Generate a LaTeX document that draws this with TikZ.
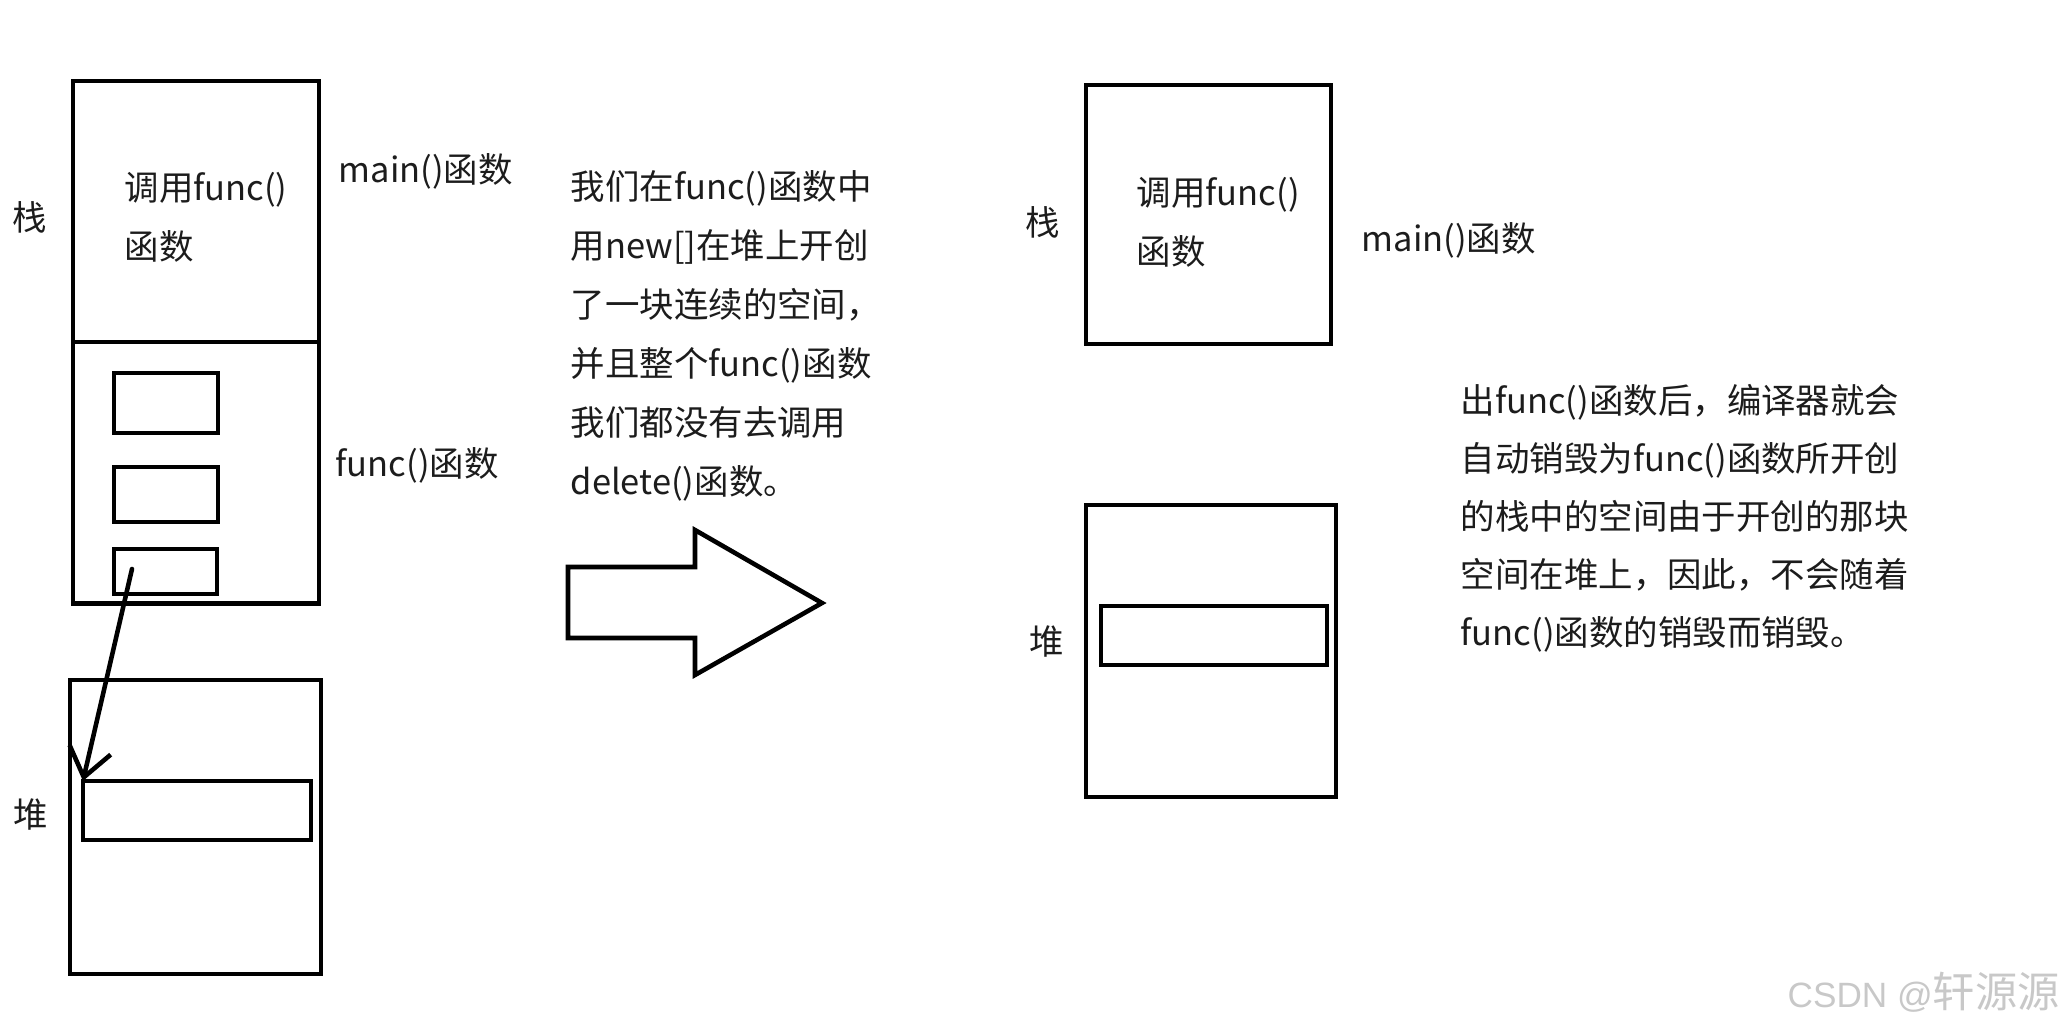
\documentclass[tikz,border=0pt]{standalone}
\usepackage{fontspec}
\setmainfont{Noto Sans CJK SC}
\newfontfamily\wmlatin{Liberation Sans}
\usepackage{xcolor}
\usetikzlibrary{arrows.meta,positioning}
\definecolor{inkgrey}{RGB}{28,28,28}
\definecolor{wmgrey}{RGB}{200,200,200}
\tikzset{
  frame/.style={draw, line width=1.3pt, inner sep=0pt, outer sep=0pt},
  txt/.style={font=\fontsize{9.8pt}{16.8pt}\selectfont, text=inkgrey, inner sep=0pt, align=left},
  ptr/.style={-{Straight Barb[length=8pt,width=12pt]}, line width=1.3pt, line cap=round},
}

\begin{document}
\begin{tikzpicture}[x=0.01cm, y=-0.01cm]
\useasboundingbox (0,0) rectangle (2059,1024);
% left: while func() runs
\node[frame, minimum width=2.46cm, minimum height=2.61cm] (mainL) at (196,211.5) {};
\node[frame, minimum width=2.46cm, minimum height=2.61cm, below=0pt of mainL] (funcL) {};
\node[frame, minimum width=1.04cm, minimum height=0.60cm] (slotA) at (166,403) {};
\node[frame, minimum width=1.04cm, minimum height=0.55cm] (slotB) at (166,494.5) {};
\node[frame, minimum width=1.03cm, minimum height=0.45cm] (slotC) at (165.5,571.5) {};
\node[frame, minimum width=2.51cm, minimum height=2.94cm] (heapL) at (195.5,827) {};
\node[frame, minimum width=2.28cm, minimum height=0.59cm] (blockL) at (197,810.5) {};
\node[txt] (stackL) at (30,217) {栈};
\node[txt] (pileL) at (31,815) {堆};
\node[txt, anchor=west] (callL) at (124,217) {调用func()\\函数};
\node[txt, anchor=west] (mainLblL) at (338,171) {main()函数};
\node[txt, anchor=west] (funcLbl) at (335,465) {func()函数};
\coordinate (ptrL) at (132,569);
\draw[ptr] (ptrL) -- (blockL.north west);
% middle: note and big arrow
\node[txt, anchor=west] (noteA) at (570,336) {我们在func()函数中\\用new[]在堆上开创\\了一块连续的空间，\\并且整个func()函数\\我们都没有去调用\\delete()函数。};
\draw[line width=1.3pt, line join=miter] (568,567) -- (695,567) -- (695,530) -- (822,603)
  -- (695,675) -- (695,638) -- (568,638) -- cycle;
% right: after func() returns
\node[frame, minimum width=2.45cm, minimum height=2.59cm] (mainR) at (1208.5,214.5) {};
\node[frame, minimum width=2.50cm, minimum height=2.92cm] (heapR) at (1211,651) {};
\node[frame, minimum width=2.26cm, minimum height=0.59cm] (blockR) at (1214,635.5) {};
\node[txt] (stackR) at (1043,222) {栈};
\node[txt] (pileR) at (1047,642) {堆};
\node[txt, anchor=west] (callR) at (1136,222) {调用func()\\函数};
\node[txt, anchor=west] (mainLblR) at (1361,240) {main()函数};
\node[txt, anchor=west, font=\fontsize{9.8pt}{16.5pt}\selectfont] (noteB) at (1460,518) {出func()函数后，编译器就会\\自动销毁为func()函数所开创\\的栈中的空间由于开创的那块\\空间在堆上，因此，不会随着\\func()函数的销毁而销毁。};
% watermark
\node[anchor=west, inner sep=0pt, text=wmgrey] (mark) at (1787,992)
  {{\wmlatin\fontsize{10pt}{12pt}\selectfont CSDN @}{\fontsize{12pt}{12pt}\selectfont 轩源源}};
\end{tikzpicture}
\end{document}
